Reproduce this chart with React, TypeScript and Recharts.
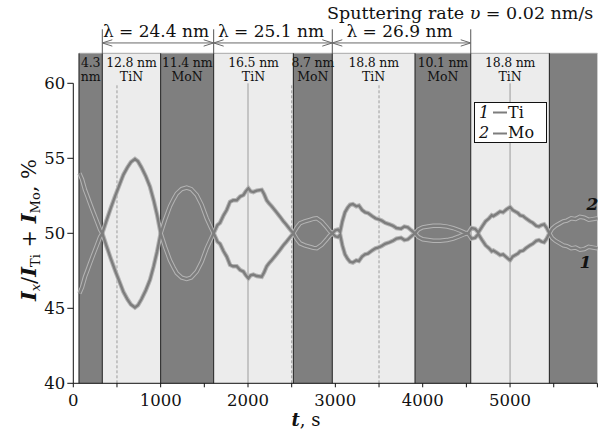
import React from 'react';
import {
  ComposedChart,
  Line,
  XAxis,
  YAxis,
  ReferenceArea,
  ReferenceLine,
  Legend,
} from 'recharts';

const FONT = '"DejaVu Serif", "Liberation Serif", serif';

// Sputtering time, s
const timeS = [
  70, 100, 134, 160, 191, 230, 270, 306, 332, 380, 430, 480, 530, 573, 620, 660, 706, 740, 780, 830,
  878, 920, 960, 1000, 1050, 1107, 1150, 1184, 1240, 1298, 1350, 1413, 1470, 1527, 1570, 1607, 1650,
  1680, 1720, 1756, 1794, 1830, 1871, 1910, 1947, 1975, 2004, 2030, 2061, 2100, 2157, 2185, 2214,
  2240, 2271, 2320, 2367, 2405, 2435, 2462, 2490, 2519, 2560, 2596, 2650, 2710, 2750, 2787, 2844,
  2901, 2935, 2965, 3000, 3030, 3055, 3080, 3110, 3140, 3168, 3200, 3240, 3270, 3306, 3340, 3374,
  3420, 3460, 3489, 3530, 3570, 3620, 3660, 3700, 3752, 3790, 3830, 3870, 3912, 3950, 4000, 4060,
  4120, 4200, 4280, 4350, 4420, 4480, 4520, 4560, 4600, 4637, 4680, 4720, 4760, 4790, 4809, 4850,
  4886, 4920, 4960, 5000, 5030, 5060, 5090, 5115, 5150, 5180, 5229, 5260, 5300, 5330, 5360, 5390,
  5420, 5450, 5480, 5520, 5571, 5610, 5650, 5700, 5750, 5800, 5850, 5900, 5950, 6000,
];

// I_Ti / (I_Ti + I_Mo), %
const tiPct = [
  46.0, 46.4, 47.1, 47.5, 48.0, 48.6, 49.2, 49.75, 50, 50.85, 51.7, 52.5, 53.25, 53.9, 54.4, 54.75,
  54.95, 54.8, 54.4, 53.8, 53.1, 52.2, 51.2, 50, 49.1, 48.2, 47.7, 47.35, 47.05, 46.95, 47.05, 47.45,
  48.1, 49.0, 49.55, 50, 50.55, 50.7, 51.2, 51.55, 52.1, 52.2, 52.2, 52.45, 52.55, 52.8, 53.0, 52.8,
  52.75, 52.85, 52.9, 52.6, 52.2, 52.0, 51.8, 51.45, 51.1, 50.8, 50.6, 50.4, 50.2, 50, 49.6, 49.33,
  49.2, 49.1, 49.03, 49.0, 49.23, 49.6, 49.85, 50, 50.2, 50.25, 50.1, 50.8, 51.4, 51.7, 51.9, 51.95,
  51.8, 51.85, 51.55, 51.4, 51.35, 51.15, 51.0, 50.95, 50.85, 50.7, 50.6, 50.5, 50.35, 50.3, 50.45,
  50.4, 50.2, 50, 49.75, 49.6, 49.55, 49.5, 49.5, 49.55, 49.65, 49.8, 49.95, 50, 50.35, 50.3, 50.05,
  50.45, 50.8, 51.0, 51.2, 51.15, 51.3, 51.45, 51.4, 51.6, 51.75, 51.55, 51.45, 51.35, 51.2, 51.15,
  51.0, 50.8, 50.7, 50.5, 50.45, 50.55, 50.6, 50.35, 50, 49.7, 49.5, 49.33, 49.2, 49.15, 49.0, 49.05,
  48.9, 48.95, 49.1, 49.05, 49.0,
];

// I_Mo / (I_Ti + I_Mo), %
const moPct = [
  54.0, 53.6, 52.9, 52.5, 52.0, 51.4, 50.8, 50.25, 50, 49.15, 48.3, 47.5, 46.75, 46.1, 45.6, 45.25,
  45.05, 45.2, 45.6, 46.2, 46.9, 47.8, 48.8, 50, 50.9, 51.8, 52.3, 52.65, 52.95, 53.05, 52.95, 52.55,
  51.9, 51.0, 50.45, 50, 49.45, 49.3, 48.8, 48.45, 47.9, 47.8, 47.8, 47.55, 47.45, 47.2, 47.0, 47.2,
  47.25, 47.15, 47.1, 47.4, 47.8, 48.0, 48.2, 48.55, 48.9, 49.2, 49.4, 49.6, 49.8, 50, 50.4, 50.67,
  50.8, 50.9, 50.97, 51.0, 50.77, 50.4, 50.15, 50, 49.8, 49.75, 49.9, 49.2, 48.6, 48.3, 48.1, 48.05,
  48.2, 48.15, 48.45, 48.6, 48.65, 48.85, 49.0, 49.05, 49.15, 49.3, 49.4, 49.5, 49.65, 49.7, 49.55,
  49.6, 49.8, 50, 50.25, 50.4, 50.45, 50.5, 50.5, 50.45, 50.35, 50.2, 50.05, 50, 49.65, 49.7, 49.95,
  49.55, 49.2, 49.0, 48.8, 48.85, 48.7, 48.55, 48.6, 48.4, 48.2, 48.45, 48.55, 48.65, 48.8, 48.85,
  49.0, 49.2, 49.3, 49.5, 49.55, 49.45, 49.4, 49.65, 50, 50.3, 50.5, 50.67, 50.8, 50.85, 51.0, 50.95,
  51.1, 51.05, 50.9, 50.95, 51.0,
];

// Multilayer structure along the time axis
const layerStart = [65, 332, 1000, 1607, 2519, 2965, 3912, 4550, 5450];
const layerEnd = [332, 1000, 1607, 2519, 2965, 3912, 4550, 5450, 6000];
const layerKind = ['MoN', 'TiN', 'MoN', 'TiN', 'MoN', 'TiN', 'MoN', 'TiN', 'MoN'];
const layerTop = ['4.3', '12.8 nm', '11.4 nm', '16.5 nm', '8.7 nm', '18.8 nm', '10.1 nm', '18.8 nm', ''];
const layerBottom = ['nm', 'TiN', 'MoN', 'TiN', 'MoN', 'TiN', 'MoN', 'TiN', ''];

// Bilayer periods
const periodFrom = [332, 1607, 2965];
const periodTo = [1607, 2965, 4550];
const periodLabels = ['λ = 24.4 nm', 'λ = 25.1 nm', 'λ = 26.9 nm'];

// Vertical guide lines
const guideTimes = [500, 2000, 2500, 3500, 5000];
const guideDashed = [true, false, true, true, false];

// Axis ticks
const xTicks = [0, 500, 1000, 1500, 2000, 2500, 3000, 3500, 4000, 4500, 5000, 5500, 6000];
const xLabelled = [0, 1000, 2000, 3000, 4000, 5000];
const yMajor = [40, 45, 50, 55, 60];
const yMinor = [42.5, 47.5, 52.5, 57.5];
const yAll = [40, 42.5, 45, 47.5, 50, 52.5, 55, 57.5, 60];

const rows = timeS.map((t, i) => ({ t, ti: tiPct[i], mo: moPct[i] }));

const BAND_DARK = '#7f7f7f';
const BAND_LIGHT = '#ececec';
const CURVE_CORE = '#7d7d7d';
const CURVE_EDGE = '#b4b4b4';
const INK = '#111';

const STRIP_Y = 62;
const ARROW_Y = 62.69;
const ARROW_TICK_TOP = 63.6;

const stripLabel = (top: string, bottom: string) => (props: any) => {
  const vb = props.viewBox || {};
  const cx = vb.x + vb.width / 2;
  return (
    <g>
      <text x={cx} y={vb.y + 13.4} textAnchor="middle" fontFamily={FONT} fontSize={12.5} letterSpacing={-0.2} fill={INK}>
        {top}
      </text>
      <text x={cx} y={vb.y + 27.2} textAnchor="middle" fontFamily={FONT} fontSize={12.5} fill={INK}>
        {bottom}
      </text>
    </g>
  );
};

const periodShape = (label: string) => (props: any) => {
  const { x1, y1, x2 } = props;
  const y = y1;
  const head = 10;
  const spread = 3.2;
  return (
    <g>
      <line x1={x1} y1={y} x2={x2} y2={y} stroke="#6a6a6a" strokeWidth={1} />
      <polyline
        points={`${x1 + head},${y - spread} ${x1},${y} ${x1 + head},${y + spread}`}
        fill="none"
        stroke="#6a6a6a"
        strokeWidth={1}
      />
      <polyline
        points={`${x2 - head},${y - spread} ${x2},${y} ${x2 - head},${y + spread}`}
        fill="none"
        stroke="#6a6a6a"
        strokeWidth={1}
      />
      <text x={(x1 + x2) / 2 - 2} y={y - 5.5} textAnchor="middle" fontFamily={FONT} fontSize={17} fill={INK}>
        {label}
      </text>
    </g>
  );
};

const curveLabel = (text: string, dx: number, dy: number) => (props: any) => {
  if (props.index !== timeS.length - 1) return <g key={`cl-${text}-${props.index}`} />;
  return (
    <text
      key={`cl-${text}`}
      x={props.x + dx}
      y={props.y + dy}
      textAnchor="middle"
      fontFamily={FONT}
      fontSize={17}
      fontStyle="italic"
      fontWeight="bold"
      fill={INK}
    >
      {text}
    </text>
  );
};

const LegendBox = () => (
  <svg width={74} height={42} style={{ display: 'block' }}>
    <rect x={0.5} y={0.5} width={72} height={40} fill="#fff" stroke={INK} strokeWidth={1} />
    <text x={5} y={15.5} fontFamily={FONT} fontSize={16} fontStyle="italic" fill={INK}>1</text>
    <line x1={19} y1={10.5} x2={33} y2={10.5} stroke={CURVE_CORE} strokeWidth={2} />
    <text x={34} y={15.5} fontFamily={FONT} fontSize={16} fill={INK}>Ti</text>
    <text x={5} y={36} fontFamily={FONT} fontSize={16} fontStyle="italic" fill={INK}>2</text>
    <line x1={19} y1={31.5} x2={33} y2={31.5} stroke={CURVE_CORE} strokeWidth={2} />
    <text x={34} y={36} fontFamily={FONT} fontSize={16} fill={INK}>Mo</text>
  </svg>
);

const tickStyle = { fontFamily: FONT, fontSize: 16.5, fill: INK };
const blank = () => '';

export default function App() {
  return (
    <div style={{ position: 'absolute', left: 0, top: 0, width: 598, height: 432, background: '#fff' }}>
      <ComposedChart
        width={598}
        height={432}
        data={rows}
        margin={{ top: 83.3, right: 0.6, bottom: 18.7, left: 13.3 }}
      >
        <XAxis
          dataKey="t"
          type="number"
          domain={[0, 6000]}
          ticks={xTicks}
          interval={0}
          tickSize={4}
          tickMargin={7}
          height={30}
          stroke={INK}
          tick={tickStyle}
          tickFormatter={(v: number) => (xLabelled.includes(v) ? String(v) : '')}
        />
        <XAxis
          xAxisId="top"
          orientation="top"
          type="number"
          domain={[0, 6000]}
          ticks={xTicks}
          interval={0}
          height={0}
          mirror
          tickSize={3}
          stroke={INK}
          tickFormatter={blank}
        />
        <YAxis
          type="number"
          domain={[40, 60]}
          ticks={yMajor}
          interval={0}
          width={60}
          tickSize={6}
          tickMargin={2}
          stroke={INK}
          tick={tickStyle}
        />
        <YAxis
          yAxisId="minor"
          type="number"
          domain={[40, 60]}
          ticks={yMinor}
          interval={0}
          width={0}
          tickSize={3}
          axisLine={false}
          stroke={INK}
          tickFormatter={blank}
        />
        <YAxis
          yAxisId="right"
          orientation="right"
          type="number"
          domain={[40, 60]}
          ticks={yAll}
          interval={0}
          width={0}
          mirror
          tickSize={4}
          axisLine={false}
          stroke={INK}
          tickFormatter={blank}
        />

        {layerStart.map((s, i) => (
          <ReferenceArea
            key={`band-${i}`}
            x1={s}
            x2={layerEnd[i]}
            y1={40}
            y2={STRIP_Y}
            ifOverflow="visible"
            fill={layerKind[i] === 'MoN' ? BAND_DARK : BAND_LIGHT}
            fillOpacity={1}
            stroke="none"
          />
        ))}

        <ReferenceLine
          segment={[{ x: layerStart[0], y: STRIP_Y }, { x: 6000, y: STRIP_Y }]}
          ifOverflow="visible"
          stroke="#a8a8a8"
          strokeWidth={1}
        />

        {guideTimes.map((g, i) => (
          <ReferenceLine
            key={`guide-${i}`}
            segment={[{ x: g, y: 40 }, { x: g, y: 60 }]}
            stroke="#9c9c9c"
            strokeWidth={1}
            strokeDasharray={guideDashed[i] ? '3 2' : undefined}
          />
        ))}

        {layerStart.map((s, i) => (
          <ReferenceLine
            key={`edge-${i}`}
            segment={[{ x: s, y: 40 }, { x: s, y: STRIP_Y }]}
            ifOverflow="visible"
            stroke="#1e1e1e"
            strokeWidth={1}
          />
        ))}

        {layerStart.map((s, i) =>
          layerTop[i] ? (
            <ReferenceArea
              key={`cell-${i}`}
              x1={s}
              x2={layerEnd[i]}
              y1={60}
              y2={STRIP_Y}
              ifOverflow="visible"
              fill="none"
              fillOpacity={0}
              stroke="none"
              label={stripLabel(layerTop[i], layerBottom[i])}
            />
          ) : null,
        )}

        {[periodFrom[0], ...periodTo].map((b, i) => (
          <ReferenceLine
            key={`pt-${i}`}
            segment={[{ x: b, y: STRIP_Y }, { x: b, y: ARROW_TICK_TOP }]}
            ifOverflow="visible"
            stroke="#555"
            strokeWidth={1}
          />
        ))}

        {periodFrom.map((a, i) => (
          <ReferenceLine
            key={`period-${i}`}
            segment={[{ x: a, y: ARROW_Y }, { x: periodTo[i], y: ARROW_Y }]}
            ifOverflow="visible"
            shape={periodShape(periodLabels[i])}
          />
        ))}

        <Line type="linear" dataKey="ti" stroke={CURVE_EDGE} strokeWidth={4.4} dot={false} activeDot={false} isAnimationActive={false} legendType="none" />
        <Line type="linear" dataKey="mo" stroke={CURVE_EDGE} strokeWidth={4.4} dot={false} activeDot={false} isAnimationActive={false} legendType="none" />
        <Line type="linear" dataKey="ti" name="Ti" stroke={CURVE_CORE} strokeWidth={2.4} dot={false} activeDot={false} isAnimationActive={false} label={curveLabel('1', -12, 20)} />
        <Line type="linear" dataKey="mo" name="Mo" stroke={CURVE_CORE} strokeWidth={2.4} dot={false} activeDot={false} isAnimationActive={false} label={curveLabel('2', -5, -8)} />

        <Legend
          layout="vertical"
          align="center"
          verticalAlign="middle"
          wrapperStyle={{ position: 'absolute', left: 474, top: 102, width: 74, height: 42 }}
          content={() => <LegendBox />}
        />

        <text x={327} y={18.5} fontFamily={FONT} fontSize={17.5} fill={INK}>
          Sputtering rate <tspan fontStyle="italic">υ</tspan> = 0.02 nm/s
        </text>

        <text x={306} y={426} textAnchor="middle" fontFamily={FONT} fontSize={18} fill={INK}>
          <tspan fontStyle="italic" fontWeight="bold">t</tspan>, s
        </text>

        <text transform="rotate(-90)" x={-230} y={36} textAnchor="middle" fontFamily={FONT} fontSize={21} fill={INK}>
          <tspan fontStyle="italic" fontWeight="bold">I</tspan>
          <tspan fontSize={13} dy={4} fontStyle="italic">x</tspan>
          <tspan dy={-4}>/</tspan>
          <tspan fontStyle="italic" fontWeight="bold">I</tspan>
          <tspan fontSize={13} dy={4}>Ti</tspan>
          <tspan dy={-4}> + </tspan>
          <tspan fontStyle="italic" fontWeight="bold">I</tspan>
          <tspan fontSize={13} dy={4}>Mo</tspan>
          <tspan dy={-4}>, %</tspan>
        </text>
      </ComposedChart>
    </div>
  );
}
